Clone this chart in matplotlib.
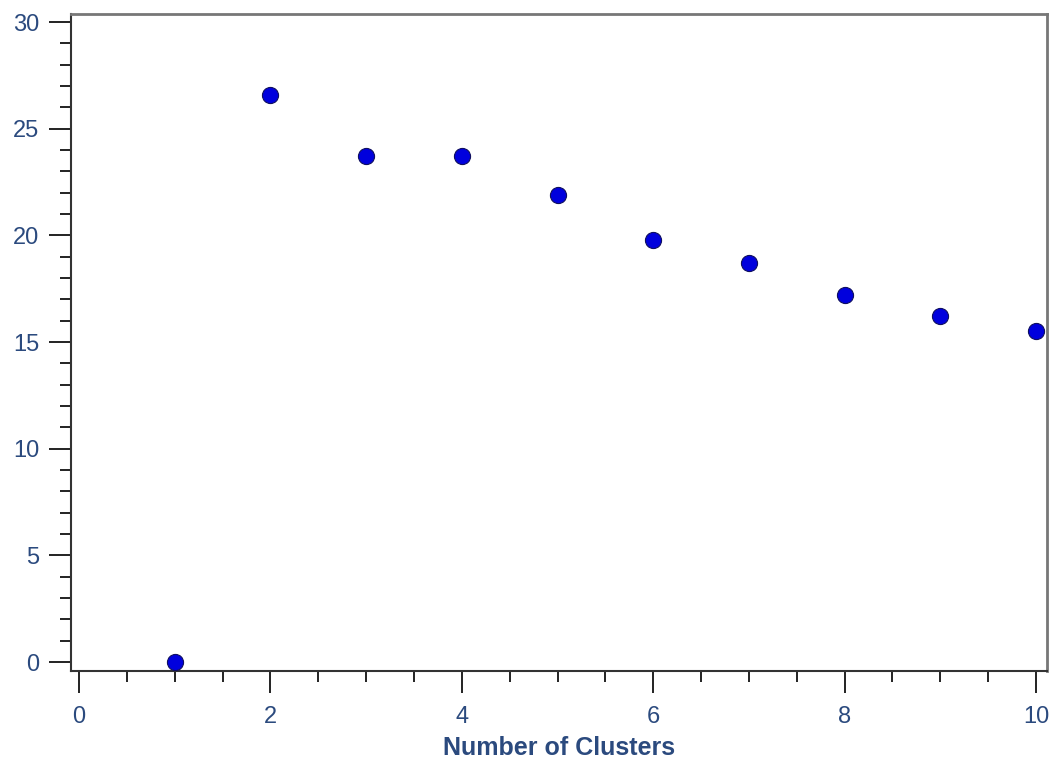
import matplotlib
matplotlib.use("Agg")
import matplotlib.pyplot as plt
from matplotlib.ticker import MultipleLocator

# cluster counts and scores
clusters = [1, 2, 3, 4, 5, 6, 7, 8, 9, 10]
scores = [0.0, 26.6, 23.7, 23.7, 21.9, 19.8, 18.7, 17.2, 16.2, 15.5]

text_color = "#2b4a7e"

plt.rcParams["font.family"] = ["Liberation Sans", "DejaVu Sans"]

fig = plt.figure(figsize=(10.55, 7.6), dpi=100)
ax = fig.add_axes([71 / 1055, 89 / 760, 976 / 1055, 657 / 760])

ax.scatter(clusters, scores, s=135, color="#0000dd", edgecolors="#101060",
           linewidths=0.8, zorder=3, clip_on=False)

ax.set_xlim(-0.084, 10.115)
ax.set_ylim(-0.42, 30.375)

ax.xaxis.set_major_locator(MultipleLocator(2))
ax.xaxis.set_minor_locator(MultipleLocator(0.5))
ax.yaxis.set_major_locator(MultipleLocator(5))
ax.yaxis.set_minor_locator(MultipleLocator(1))

ax.tick_params(which="major", direction="out", length=16, width=1.4,
               color="#222222", labelsize=17, labelcolor=text_color, pad=7)
ax.tick_params(axis="x", which="major", pad=9)
ax.tick_params(which="minor", direction="out", length=8, width=1.4,
               color="#222222")

for side in ["left", "bottom"]:
    ax.spines[side].set_color("#333333")
    ax.spines[side].set_linewidth(1.5)
for side in ["top", "right"]:
    ax.spines[side].set_color("#777777")
    ax.spines[side].set_linewidth(2)

ax.set_xlabel("Number of Clusters", fontsize=18, fontweight="bold",
              color=text_color, labelpad=6)

plt.savefig("out.png", dpi=100)
